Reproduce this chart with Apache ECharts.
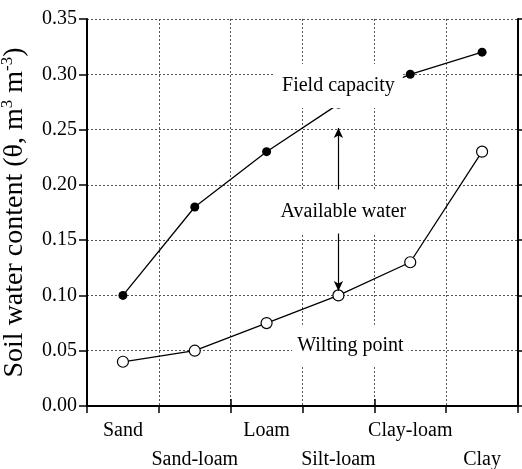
<!DOCTYPE html>
<html><head><meta charset="utf-8">
<script src="https://cdn.jsdelivr.net/npm/echarts@6/dist/echarts.min.js"></script>
<style>html,body{margin:0;padding:0;background:#fff}#c{width:522px;height:469px}</style>
</head><body><div id="c"></div>
<script>
const categories = ['Sand', 'Sand-loam', 'Loam', 'Silt-loam', 'Clay-loam', 'Clay'];
const fieldCapacity = [0.10, 0.18, 0.23, 0.273, 0.30, 0.32];
const wiltingPoint = [0.04, 0.05, 0.075, 0.10, 0.13, 0.23];
const yMin = 0, yMax = 0.35, yStep = 0.05;
const labelTexts = ['Field capacity', 'Available water', 'Wilting point'];

const FONT = 'Liberation Serif';
const grid = { left: 87, right: 4, top: 19, bottom: 63, containLabel: false, outerBoundsMode: 'none' };
const dotted = { show: true, lineStyle: { type: [2, 2], color: '#555', width: 1 } };
const axisLineStyle = { show: true, lineStyle: { color: '#000', width: 2 } };
const tickStyle = { show: true, inside: false, length: 7, lineStyle: { color: '#000', width: 1.5 } };

const boxLabel = (offset, padding) => ({
  show: true, position: 'inside', offset: offset,
  color: '#000', fontFamily: FONT, fontSize: 20, lineHeight: 22,
  backgroundColor: '#fff', padding: padding
});

const chart = echarts.init(document.getElementById('c'), null, { renderer: 'canvas' });
chart.setOption({
  animation: false,
  backgroundColor: '#fff',
  grid: grid,
  xAxis: [
    {
      type: 'category', data: categories, position: 'bottom', boundaryGap: true,
      axisLine: axisLineStyle, axisTick: tickStyle, splitLine: dotted,
      axisLabel: {
        interval: 0, margin: 10, color: '#000', fontFamily: FONT, fontSize: 20, lineHeight: 29,
        formatter: (v, i) => (i % 2 ? '\n' + v : v)
      }
    },
    {
      type: 'category', data: categories, position: 'top', boundaryGap: true,
      axisLine: axisLineStyle, axisTick: tickStyle, axisLabel: { show: false }, splitLine: { show: false }
    }
  ],
  yAxis: [
    {
      type: 'value', min: yMin, max: yMax, interval: yStep, position: 'left',
      axisLine: axisLineStyle, axisTick: Object.assign({}, tickStyle, { length: 8 }), splitLine: dotted,
      axisLabel: { margin: 10, color: '#000', fontFamily: FONT, fontSize: 20, formatter: v => v.toFixed(2) },
      name: 'Soil water content (θ, m{sup|3} m{sup|-3})',
      nameLocation: 'middle', nameRotate: 90, nameGap: 43,
      nameTextStyle: {
        color: '#000', fontFamily: FONT, fontSize: 28, lineHeight: 32,
        rich: { sup: { fontFamily: FONT, fontSize: 17, lineHeight: 17, verticalAlign: 'top', color: '#000' } }
      }
    },
    {
      type: 'value', min: yMin, max: yMax, interval: yStep, position: 'right',
      axisLine: axisLineStyle, axisTick: tickStyle, axisLabel: { show: false }, splitLine: { show: false }
    }
  ],
  series: [
    {
      name: 'Field capacity', type: 'line', data: fieldCapacity, z: 2,
      symbol: 'circle', symbolSize: 9, showAllSymbol: true,
      itemStyle: { color: '#000' }, lineStyle: { color: '#000', width: 1.3 },
      emphasis: { disabled: true }
    },
    {
      name: 'Wilting point', type: 'line', data: wiltingPoint, z: 2,
      symbol: 'circle', symbolSize: 11, showAllSymbol: true,
      itemStyle: { color: '#fff', borderColor: '#000', borderWidth: 1.2 },
      lineStyle: { color: '#000', width: 1.3 },
      emphasis: { disabled: true },
      markLine: {
        silent: true, z: 3, symbol: ['arrow', 'arrow'], symbolSize: [7, 10],
        label: { show: false },
        lineStyle: { color: '#000', width: 1.2, type: 'solid' },
        data: [[{ coord: ['Silt-loam', 0.2515] }, { coord: ['Silt-loam', 0.104] }]]
      },
      markPoint: {
        silent: true, z: 10, symbol: 'circle', symbolSize: 0,
        data: [
          { coord: ['Silt-loam', 0.2895], label: boxLabel([0, 0], [11, 8]), value: labelTexts[0] },
          { coord: ['Silt-loam', 0.176], label: boxLabel([5, 0], [11, 8]), value: labelTexts[1] },
          { coord: ['Silt-loam', 0.0545], label: boxLabel([12, 0], [10, 5]), value: labelTexts[2] }
        ],
        label: { formatter: p => p.value }
      }
    }
  ]
});
</script></body></html>
